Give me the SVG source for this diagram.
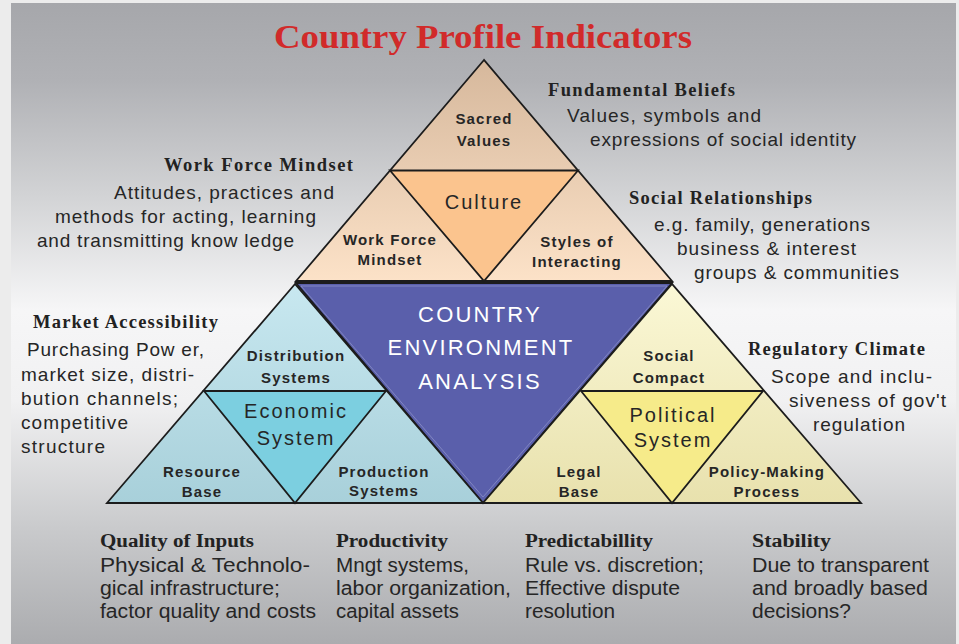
<svg xmlns="http://www.w3.org/2000/svg" width="959" height="644" viewBox="0 0 959 644">
  <defs>
    <linearGradient id="bg" x1="0" y1="0" x2="0" y2="1">
      <stop offset="0" stop-color="#a6a7ab"/>
      <stop offset="0.12" stop-color="#b0b1b5"/>
      <stop offset="0.3" stop-color="#d2d3d5"/>
      <stop offset="0.48" stop-color="#f6f6f7"/>
      <stop offset="0.62" stop-color="#f1f1f2"/>
      <stop offset="0.82" stop-color="#c9cacc"/>
      <stop offset="1" stop-color="#abacaf"/>
    </linearGradient>
    <linearGradient id="gCulture" x1="0" y1="60" x2="0" y2="282" gradientUnits="userSpaceOnUse">
      <stop offset="0" stop-color="#d6b89c"/>
      <stop offset="1" stop-color="#fce2c8"/>
    </linearGradient>
    <linearGradient id="gEcon" x1="0" y1="284" x2="0" y2="503" gradientUnits="userSpaceOnUse">
      <stop offset="0" stop-color="#c8e8f0"/>
      <stop offset="1" stop-color="#a8d0da"/>
    </linearGradient>
    <linearGradient id="gPol" x1="0" y1="284" x2="0" y2="503" gradientUnits="userSpaceOnUse">
      <stop offset="0" stop-color="#fbf8d6"/>
      <stop offset="1" stop-color="#e8e1ad"/>
    </linearGradient>
  </defs>
  <style>
    .tri { stroke: #1c1c1c; stroke-width: 1.8; stroke-linejoin: miter; }
    .title { font-family: "Liberation Serif", "Times New Roman", serif; font-weight: bold; font-size: 33px; fill: #d12a2a; }
    .head { font-family: "Liberation Serif", "Times New Roman", serif; font-weight: bold; font-size: 18.5px; fill: #222; }
    .body { font-family: "Liberation Sans", Arial, sans-serif; font-size: 19px; fill: #262626; }
    .note { font-family: "Liberation Sans", Arial, sans-serif; font-size: 20px; fill: #262626; }
    .lab { font-family: "Liberation Sans", Arial, sans-serif; font-weight: bold; font-size: 15px; fill: #262626; text-anchor: middle; letter-spacing: 1.2px; }
    .sys { font-family: "Liberation Sans", Arial, sans-serif; font-size: 20px; fill: #262626; text-anchor: middle; letter-spacing: 2px; }
    .core { font-family: "Liberation Sans", Arial, sans-serif; font-size: 22px; fill: #ffffff; text-anchor: middle; letter-spacing: 2.2px; }
  </style>

  <!-- page background and panel -->
  <rect x="0" y="0" width="959" height="644" fill="#ececec"/>
  <rect x="11" y="3" width="945" height="641" fill="url(#bg)"/>

  <text class="title" x="483" y="48" text-anchor="middle" textLength="418" lengthAdjust="spacingAndGlyphs">Country Profile Indicators</text>

  <!-- central analysis triangle -->
  <g id="core">
    <polygon class="tri" points="296,283 672,283 483,503" fill="#5a5fab" stroke-width="2.4"/>
    <polygon points="301,286 667,286 483,497" fill="none" stroke="#8a8fc8" stroke-width="0.8"/>
    <text class="core" x="480" y="322">COUNTRY</text>
    <text class="core" x="481" y="355">ENVIRONMENT</text>
    <text class="core" x="480" y="389">ANALYSIS</text>
  </g>

  <!-- culture pyramid -->
  <g id="culture">
    <polygon class="tri" points="484,60 296,281 672,281" fill="url(#gCulture)"/>
    <polygon class="tri" points="390,170.5 578,170.5 484,281" fill="#fbc48e"/>
    <text class="lab" x="484" y="124">Sacred</text>
    <text class="lab" x="484" y="146">Values</text>
    <text class="sys" x="484" y="209">Culture</text>
    <text class="lab" x="390" y="245">Work Force</text>
    <text class="lab" x="390" y="265">Mindset</text>
    <text class="lab" x="577" y="247">Styles of</text>
    <text class="lab" x="577" y="267">Interacting</text>
  </g>

  <!-- economic pyramid -->
  <g id="economic">
    <polygon class="tri" points="295,284 107,503 483,503" fill="url(#gEcon)"/>
    <polygon class="tri" points="204,391 386,391 295,503" fill="#7ccfe0"/>
    <text class="lab" x="296" y="361">Distribution</text>
    <text class="lab" x="296" y="383">Systems</text>
    <text class="sys" x="296" y="418">Economic</text>
    <text class="sys" x="296" y="445">System</text>
    <text class="lab" x="202" y="477">Resource</text>
    <text class="lab" x="202" y="497">Base</text>
    <text class="lab" x="384" y="477">Production</text>
    <text class="lab" x="384" y="496">Systems</text>
  </g>

  <!-- political pyramid -->
  <g id="political">
    <polygon class="tri" points="672,284 483,503 861,503" fill="url(#gPol)"/>
    <polygon class="tri" points="581,391 763,391 672,503" fill="#f6eb8a"/>
    <text class="lab" x="669" y="361">Social</text>
    <text class="lab" x="669" y="383">Compact</text>
    <text class="sys" x="673" y="422">Political</text>
    <text class="sys" x="673" y="447">System</text>
    <text class="lab" x="579" y="477">Legal</text>
    <text class="lab" x="579" y="497">Base</text>
    <text class="lab" x="767" y="477">Policy-Making</text>
    <text class="lab" x="767" y="497">Process</text>
  </g>

  <!-- indicator notes around the pyramids -->
  <g id="fundamental-beliefs">
    <text class="head" x="548" y="96" textLength="187" lengthAdjust="spacing">Fundamental Beliefs</text>
    <text class="body" x="567" y="122" textLength="194" lengthAdjust="spacing">Values, symbols and</text>
    <text class="body" x="590" y="146" textLength="266" lengthAdjust="spacing">expressions of social identity</text>
  </g>
  <g id="work-force-mindset">
    <text class="head" x="164" y="171" textLength="189" lengthAdjust="spacing">Work Force Mindset</text>
    <text class="body" x="114" y="199" textLength="220" lengthAdjust="spacing">Attitudes, practices and</text>
    <text class="body" x="55" y="223" textLength="261" lengthAdjust="spacing">methods for acting, learning</text>
    <text class="body" x="37" y="247" textLength="257" lengthAdjust="spacing">and transmitting know ledge</text>
  </g>
  <g id="social-relationships">
    <text class="head" x="629" y="204" textLength="183" lengthAdjust="spacing">Social Relationships</text>
    <text class="body" x="654" y="231" textLength="216" lengthAdjust="spacing">e.g. family, generations</text>
    <text class="body" x="677" y="255" textLength="179" lengthAdjust="spacing">business &amp; interest</text>
    <text class="body" x="694" y="279" textLength="205" lengthAdjust="spacing">groups &amp; communities</text>
  </g>
  <g id="market-accessibility">
    <text class="head" x="33" y="328" textLength="185" lengthAdjust="spacing">Market Accessibility</text>
    <text class="body" x="27" y="356" textLength="177" lengthAdjust="spacing">Purchasing Pow er,</text>
    <text class="body" x="21" y="381" textLength="173" lengthAdjust="spacing">market size, distri-</text>
    <text class="body" x="21" y="405" textLength="157" lengthAdjust="spacing">bution channels;</text>
    <text class="body" x="21" y="429" textLength="107" lengthAdjust="spacing">competitive</text>
    <text class="body" x="21" y="453" textLength="84" lengthAdjust="spacing">structure</text>
  </g>
  <g id="regulatory-climate">
    <text class="head" x="748" y="355" textLength="177" lengthAdjust="spacing">Regulatory Climate</text>
    <text class="body" x="771" y="383" textLength="161" lengthAdjust="spacing">Scope and inclu-</text>
    <text class="body" x="789" y="407" textLength="157" lengthAdjust="spacing">siveness of gov't</text>
    <text class="body" x="813" y="431" textLength="92" lengthAdjust="spacing">regulation</text>
  </g>
  <g id="quality-of-inputs">
    <text class="head" x="100" y="547" textLength="154" lengthAdjust="spacingAndGlyphs">Quality of Inputs</text>
    <text class="note" x="100" y="572" textLength="210" lengthAdjust="spacingAndGlyphs">Physical &amp; Technolo-</text>
    <text class="note" x="100" y="595" textLength="180" lengthAdjust="spacingAndGlyphs">gical infrastructure;</text>
    <text class="note" x="100" y="618" textLength="216" lengthAdjust="spacingAndGlyphs">factor quality and costs</text>
  </g>
  <g id="productivity">
    <text class="head" x="336" y="547" textLength="112" lengthAdjust="spacingAndGlyphs">Productivity</text>
    <text class="note" x="336" y="572" textLength="133" lengthAdjust="spacingAndGlyphs">Mngt systems,</text>
    <text class="note" x="336" y="595" textLength="175" lengthAdjust="spacingAndGlyphs">labor organization,</text>
    <text class="note" x="336" y="618" textLength="123" lengthAdjust="spacingAndGlyphs">capital assets</text>
  </g>
  <g id="predictability">
    <text class="head" x="525" y="547" textLength="128" lengthAdjust="spacingAndGlyphs">Predictabillity</text>
    <text class="note" x="525" y="572" textLength="179" lengthAdjust="spacingAndGlyphs">Rule vs. discretion;</text>
    <text class="note" x="525" y="595" textLength="155" lengthAdjust="spacingAndGlyphs">Effective dispute</text>
    <text class="note" x="525" y="618" textLength="90" lengthAdjust="spacingAndGlyphs">resolution</text>
  </g>
  <g id="stability">
    <text class="head" x="752" y="547" textLength="79" lengthAdjust="spacingAndGlyphs">Stability</text>
    <text class="note" x="752" y="572" textLength="177" lengthAdjust="spacingAndGlyphs">Due to transparent</text>
    <text class="note" x="752" y="595" textLength="176" lengthAdjust="spacingAndGlyphs">and broadly based</text>
    <text class="note" x="752" y="618" textLength="99" lengthAdjust="spacingAndGlyphs">decisions?</text>
  </g>
</svg>
